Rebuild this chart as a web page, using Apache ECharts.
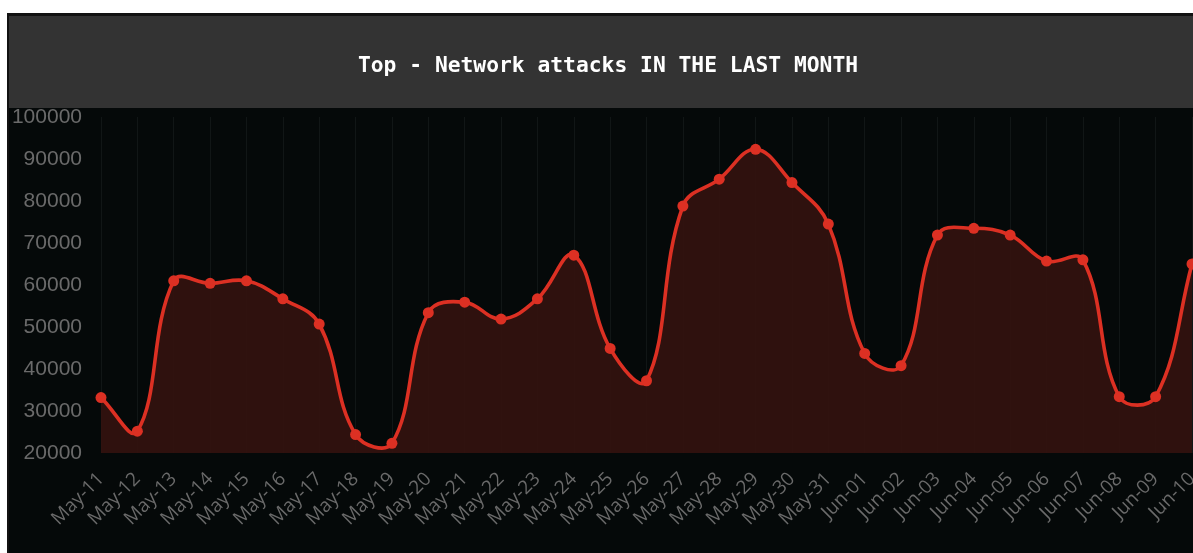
<!DOCTYPE html>
<html>
<head>
<meta charset="utf-8">
<script src="https://cdn.jsdelivr.net/npm/echarts@6/dist/echarts.min.js"></script>
<style>
html,body{margin:0;padding:0;background:#fff;overflow:hidden;width:1193px;height:553px;}
#chart{position:absolute;left:7px;top:13px;width:1186px;height:540px;}
</style>
</head>
<body>
<div id="chart"></div>
<script>
const titleText = 'Top - Network attacks IN THE LAST MONTH';
const categories = ['May-11','May-12','May-13','May-14','May-15','May-16','May-17','May-18','May-19','May-20','May-21','May-22','May-23','May-24','May-25','May-26','May-27','May-28','May-29','May-30','May-31','Jun-01','Jun-02','Jun-03','Jun-04','Jun-05','Jun-06','Jun-07','Jun-08','Jun-09','Jun-10'];
const attacks = [33200,25200,61000,60400,61000,56700,50700,24400,22300,53400,55900,51900,56700,67100,44900,37200,78800,85200,92300,84400,74500,43700,40800,71900,73500,71900,65700,66000,33400,33400,65000];
const yMin = 20000, yMax = 100000, yStep = 10000;
const tension = 0.4;

const RED = '#dc3023';

function renderCurve(params, api) {
  if (params.dataIndex !== 0) return null;
  const pts = attacks.map((v, i) => api.coord([i, v]));
  const cs = params.coordSys;
  const n = pts.length;
  const cps = pts.map((cur, i) => {
    const prev = i > 0 ? pts[i - 1] : cur;
    const next = i < n - 1 ? pts[i + 1] : cur;
    const d01 = Math.hypot(cur[0] - prev[0], cur[1] - prev[1]);
    const d12 = Math.hypot(next[0] - cur[0], next[1] - cur[1]);
    let s01 = d01 / (d01 + d12), s12 = d12 / (d01 + d12);
    if (isNaN(s01)) s01 = 0; if (isNaN(s12)) s12 = 0;
    const fa = tension * s01, fb = tension * s12;
    const clampY = y => Math.max(cs.y, Math.min(cs.y + cs.height, y));
    const clampX = x => Math.max(cs.x, Math.min(cs.x + cs.width, x));
    return {
      p: [clampX(cur[0] - fa * (next[0] - prev[0])), clampY(cur[1] - fa * (next[1] - prev[1]))],
      n: [clampX(cur[0] + fb * (next[0] - prev[0])), clampY(cur[1] + fb * (next[1] - prev[1]))]
    };
  });
  let d = 'M' + pts[0][0] + ' ' + pts[0][1];
  for (let i = 0; i < n - 1; i++) {
    d += ' C' + cps[i].n[0] + ' ' + cps[i].n[1] + ' ' + cps[i + 1].p[0] + ' ' + cps[i + 1].p[1] + ' ' + pts[i + 1][0] + ' ' + pts[i + 1][1];
  }
  const base = api.coord([0, yMin])[1];
  const area = d + ' L' + pts[n - 1][0] + ' ' + base + ' L' + pts[0][0] + ' ' + base + ' Z';
  return {
    type: 'group',
    children: [
      {type: 'path', shape: {pathData: area}, style: {fill: 'rgba(51,18,15,0.92)', stroke: null}},
      {type: 'path', shape: {pathData: d}, style: {fill: null, stroke: RED, lineWidth: 3.6}}
    ]
  };
}

const chart = echarts.init(document.getElementById('chart'), null, {renderer:'canvas', width:1186, height:540});
chart.setOption({
  backgroundColor: '#050909',
  animation: false,
  graphic: [
    {type:'rect', left:0, top:0, shape:{width:1186, height:3}, style:{fill:'#121212'}, z:100},
    {type:'rect', left:0, top:3, shape:{width:1186, height:92}, style:{fill:'#333333'}, z:100},
    {type:'rect', left:0, top:0, shape:{width:2, height:540}, style:{fill:'#121212'}, z:100},
    {type:'text', x:601, y:53.5, z:101,
      style:{text:titleText, fill:'#ffffff', font:'bold 21.3px "DejaVu Sans Mono", monospace', textAlign:'center', textVerticalAlign:'middle'}}
  ],
  grid: {left:94, right:1, top:104, bottom:100, containLabel:false, outerBoundsMode:'none'},
  xAxis: {
    type:'category', data:categories, boundaryGap:false,
    axisLine:{show:false}, axisTick:{show:false},
    splitLine:{show:true, lineStyle:{color:'#111616', width:1}},
    axisLabel:{interval:0, rotate:45, color:'#6a6a6a', fontFamily:'"Open Sans", sans-serif', fontSize:19, margin:23}
  },
  yAxis: {
    type:'value', min:yMin, max:yMax, interval:yStep,
    axisLine:{show:false}, axisTick:{show:false},
    splitLine:{show:false},
    axisLabel:{color:'#6a6a6a', fontFamily:'"Liberation Sans", Arial, sans-serif', fontSize:21, margin:19,
      formatter: v => String(v)}
  },
  series: [
    {type:'custom', renderItem: renderCurve, data: attacks.map((v, i) => [i, v]), z:2, clip:false},
    {type:'scatter', data: attacks, symbol:'circle', symbolSize:11, itemStyle:{color:RED, opacity:1}, z:3}
  ]
});
</script>
</body>
</html>
